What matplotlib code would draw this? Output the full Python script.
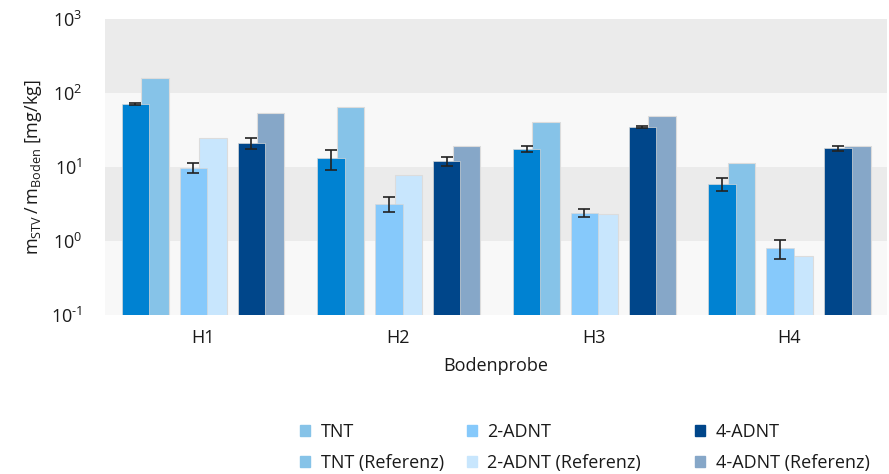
import numpy as np
import matplotlib
matplotlib.use("Agg")
import matplotlib.pyplot as plt
from matplotlib.patches import Patch

plt.rcParams['font.family'] = ['Open Sans', 'DejaVu Sans']
plt.rcParams['mathtext.fontset'] = 'custom'
plt.rcParams['mathtext.rm'] = 'Open Sans'
plt.rcParams['mathtext.it'] = 'Open Sans'

# data (mg/kg)
samples = ['H1', 'H2', 'H3', 'H4']
substances = ['TNT', '2-ADNT', '4-ADNT']
measured = {
    'TNT':    [71, 13.1, 17.5, 6.0],
    '2-ADNT': [9.8, 3.2, 2.4, 0.80],
    '4-ADNT': [21, 12, 35, 17.9],
}
errors = {
    'TNT':    [3, 4.1, 1.6, 1.2],
    '2-ADNT': [1.5, 0.75, 0.3, 0.23],
    '4-ADNT': [3.7, 1.8, 1.0, 1.2],
}
reference = {
    'TNT':    [161, 64, 41, 11.2],
    '2-ADNT': [25, 7.8, 2.3, 0.63],
    '4-ADNT': [53, 19, 49, 19.4],
}
tick_labels = [r'$10^{\text{-}1}$', r'$10^{0}$', r'$10^{1}$', r'$10^{2}$', r'$10^{3}$']

colors = {'TNT': '#0082d2', '2-ADNT': '#86c9fb', '4-ADNT': '#00468a'}
ref_colors = {'TNT': '#86c3e8', '2-ADNT': '#c8e6fd', '4-ADNT': '#86a7c8'}
legend_colors = {'TNT': '#86c3e8', '2-ADNT': '#86c9fb', '4-ADNT': '#00468a'}

fs = 13
fig = plt.figure(figsize=(8.89, 4.74), dpi=100)
ax = fig.add_axes([0.118, 0.335, 0.880, 0.625])

# alternating background bands per decade
for i, lo in enumerate([0.1, 1, 10, 100]):
    ax.axhspan(lo, lo * 10, color='#f8f8f8' if i % 2 == 0 else '#ebebeb', zorder=0, lw=0)

x = np.arange(len(samples))
w = 0.14
shift = 0.10
pair_step = 0.296
for k, s in enumerate(substances):
    left = x + (k - 1) * pair_step - 0.118
    ax.bar(left + shift, reference[s], width=w, align='edge', color=ref_colors[s],
           edgecolor='#dcdcdc', linewidth=0.8, zorder=2)
    ax.bar(left, measured[s], width=w, align='edge', color=colors[s],
           edgecolor='#d8d8d8', linewidth=0.5, zorder=3)
    ax.errorbar(left + w / 2, measured[s], yerr=errors[s], fmt='none', ecolor='#222222',
                elinewidth=1.2, capsize=4, capthick=1.2, zorder=4)

ax.set_yscale('log')
ax.set_ylim(0.1, 1000)
ax.set_xlim(-0.5, 3.5)
ax.set_yticks([0.1, 1, 10, 100, 1000])
ax.set_yticklabels(tick_labels)
ax.minorticks_off()
ax.set_xticks(x)
ax.set_xticklabels(samples)
ax.tick_params(length=0, labelsize=fs, colors='#1a1a1a')
ax.tick_params(axis='y', pad=16)
ax.tick_params(axis='x', pad=10)
for sp in ax.spines.values():
    sp.set_visible(False)

ax.set_xlabel('Bodenprobe', fontsize=fs, color='#1a1a1a', labelpad=7)
ax.set_ylabel(r'$\mathrm{m_{STV}\,/\,m_{Boden}}$ [mg/kg]', fontsize=fs, color='#1a1a1a', labelpad=5)

# legend: three columns placed separately
col_x = [0.338, 0.525, 0.782]
for s, cx in zip(substances, col_x):
    handles = [Patch(color=legend_colors[s]), Patch(color=ref_colors[s])]
    labels = [s, s + ' (Referenz)']
    fig.legend(handles, labels, loc='upper left', bbox_to_anchor=(cx, 0.107),
               frameon=False, fontsize=fs, handlelength=0.55, handleheight=0.55,
               handletextpad=0.6, labelspacing=0.7, borderaxespad=0, borderpad=0,
               labelcolor='#1a1a1a')

fig.savefig('out.png', dpi=100)
